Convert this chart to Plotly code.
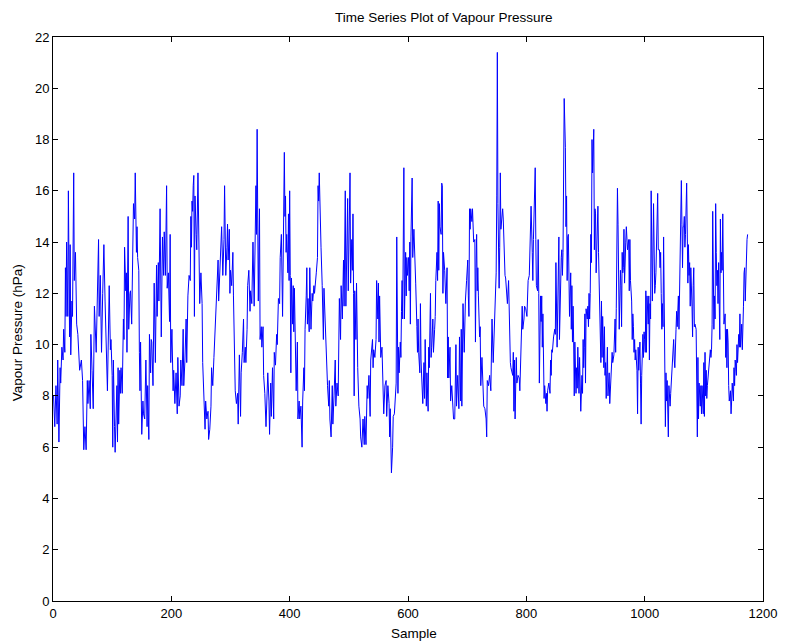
import plotly.graph_objects as go

# Turning points (sample index, vapour pressure hPa)
s1 = [1,3,5,7,8,10,12,13,15,17,18,20,21,22,23,25,26,28,29,30,32,33,35,36,38,40,42,44,45,48,50,52,54,56,58,59,61,63,64,66,68,70,73,77,78,80,82,84,86,88]
v1 = [8.0,6.8,8.4,6.9,9.4,6.2,9.1,8.5,9.9,9.4,10.6,9.7,13.0,11.1,14.0,11.1,16.0,10.3,13.9,9.6,11.7,11.1,16.7,12.5,13.6,10.8,10.4,9.5,9.0,9.4,8.6,5.9,6.8,5.9,8.6,7.7,8.6,7.5,10.4,9.0,7.5,11.5,9.7,14.1,11.1,12.7,9.7,12.0,13.9,11.7]

s2 = [92,95,97,98,100,101,102,104,105,108,109,110,111,113,114,115,117,119,120,121,123,124,125,127,128,130,131,133,134,136,138,139,141,142,143,145,146,147,148,150,152,153,155,157,159,160,162,163,165,166,167,169,171,173,175,176,178,179,181,183,185,187,188,190]
v2 = [8.2,12.3,9.8,10.2,8.8,6.0,9.4,6.8,5.8,8.4,6.2,9.1,6.9,9.0,8.1,9.1,8.1,11.0,10.2,13.8,12.1,12.8,9.7,15.0,10.6,12.0,12.1,10.8,12.9,15.5,14.9,16.7,13.6,14.6,13.4,12.9,9.7,8.2,10.1,6.5,7.8,7.3,7.1,9.4,6.8,8.4,6.3,10.4,8.9,10.2,10.1,8.4,12.4,9.3,13.1,11.1,13.2,11.7,15.3,10.3,14.2,12.7,14.4,12.7]

s3 = [192,193,195,197,198,199,201,203,204,206,208,210,211,213,215,216,218,220,221,223,225,226,228,230,232,233,234,235,236,237,238,239,240,242,243,245,247,248,250,252,253,255,257,258,260,262,263,265,267,268,270,272,274,276,277,279,280,281,283,285,287,289]
v3 = [16.2,12.2,12.8,10.9,14.3,9.3,10.6,8.2,9.0,7.7,8.9,7.3,9.5,7.6,8.0,9.4,8.4,10.6,8.4,9.4,11.0,9.3,11.9,12.7,12.5,15.0,13.8,15.6,15.2,16.2,16.6,11.1,15.8,14.3,13.7,16.7,13.6,11.6,12.8,11.6,9.3,8.2,6.7,7.8,7.1,7.4,6.3,6.7,7.6,9.1,8.4,9.5,10.7,11.9,12.0,13.3,11.7,12.3,13.6,14.6,12.7,14.1]

s4 = [290,292,294,295,296,298,299,300,302,304,305,306,308,310,312,313,315,317,318,320,322,323,325,326,328,329,331,333,334,336,338,340,341,343,344,345,347,349,350,352,353,355,356,358,360,361,363,365,366,368,369,371,373,374,376,378,379,381,383,384]
v4 = [16.2,12.7,13.8,14.7,13.3,14.5,12.0,12.9,12.3,13.6,11.9,11.0,8.2,7.7,8.1,6.9,9.6,7.2,8.9,9.7,11.0,9.3,9.9,9.3,10.6,12.3,12.9,11.3,12.1,11.6,14.0,11.5,12.9,16.2,14.3,18.4,11.7,15.3,10.2,10.7,9.9,10.7,8.8,8.1,6.8,7.6,8.9,7.8,6.5,8.5,7.2,9.1,7.1,9.7,9.2,10.4,10.0,11.8,11.6,13.4]

s5 = [386,388,389,391,392,393,394,395,397,398,399,400,401,402,403,405,406,407,408,409,410,411,413,414,416,417,419,421,422,424,425,426,428,429,430,431,433,434,436,438,439,441,442,443,445,447,448,449,450,452,453,455,457,458,459,461,463,464,466,467,468,470,472,473,475,477,478,480,482]
v5 = [14.3,11.1,14.3,17.5,15.0,15.8,13.6,14.3,12.8,15.1,12.5,16.0,12.7,8.9,12.6,10.8,12.3,10.5,12.2,11.0,10.6,8.2,10.1,7.1,7.8,7.1,7.6,6.0,7.8,9.1,8.2,10.6,11.9,13.0,10.8,11.8,10.5,13.0,10.6,12.0,11.7,12.3,12.0,12.4,12.8,13.4,16.2,15.6,16.7,14.0,13.8,12.3,10.2,12.2,11.5,10.2,9.1,8.4,7.6,8.6,7.1,6.4,8.4,6.9,8.0,9.4,7.6,8.5,8.0]

s6 = [484,486,487,489,490,491,492,494,495,496,498,499,501,502,503,505,506,507,508,509,510,512,513,514,515,517,519,520,522,524,526,527,529,531,532,534,536,537,538,540,541,542,544,546,547,549,550,551,552,554,556,557,559,561,563,564,566,568,569,570,572,574,575,577,579,580]
v6 = [11.8,10.2,12.3,11.0,12.3,13.3,11.5,16.0,11.5,13.3,15.7,12.1,14.5,16.7,12.4,14.1,12.9,15.1,12.0,8.0,12.1,10.2,12.4,10.4,9.1,7.6,7.1,6.4,6.0,7.1,6.1,7.2,6.1,8.4,7.9,8.8,7.2,9.4,9.7,10.2,9.1,9.8,9.5,10.2,12.5,11.0,12.4,10.1,11.9,9.5,9.9,8.6,7.3,8.4,8.6,7.2,8.4,7.7,6.4,7.5,5.0,6.0,7.2,7.3,8.0,8.5]

s7 = [581,583,584,585,587,588,589,590,591,593,594,595,596,597,598,599,601,602,603,604,605,607,608,610,611,612,613,615,616,617,618,620,621,622,624,625,627,628,629,630,631,632,634,635,636,638,639,640,642,643,645,646,647,649,650,651,652,653,654,656,657,658,659,660,662,664,666,667,668,669,671,672,674,676,677]
v7 = [14.2,8.1,9.9,8.9,10.1,9.5,11.3,12.5,11.0,16.9,11.0,12.9,13.6,11.9,13.4,12.7,13.4,12.1,14.0,10.8,14.2,16.5,13.4,14.5,13.4,12.5,12.4,10.7,9.7,11.0,9.7,8.9,11.6,9.4,8.4,7.7,9.3,7.9,10.2,8.4,7.6,8.9,7.4,9.9,9.1,12.0,9.5,9.9,11.0,9.7,10.6,11.1,12.5,13.6,12.5,15.6,12.9,15.5,14.6,14.3,16.3,16.2,12.0,13.6,12.9,11.6,13.0,8.7,10.3,8.7,9.9,7.8,8.4,7.7,7.1]

s8 = [679,681,682,684,686,687,689,690,691,693,695,696,697,699,701,702,703,704,705,706,708,709,710,711,713,714,715,716,717,718,719,721,722,723,725,727,728,730,732,733,734,736,738,740,741,742,744,746,747,749,750,751,752,754,755,756,757,759,760,761,762,764,765,767,768,770,771,773,774]
v8 = [7.1,10.0,7.6,8.8,7.5,10.3,7.8,10.6,7.6,11.6,9.7,11.5,11.7,12.5,13.3,11.9,11.1,15.3,14.5,15.3,14.8,15.3,14.7,14.0,14.1,10.1,13.0,14.3,12.1,13.0,11.9,10.3,10.7,8.4,9.5,8.4,7.6,7.5,7.1,6.4,8.6,8.4,8.8,8.2,9.6,11.0,9.3,11.0,11.5,12.8,15.8,21.4,15.5,12.2,13.8,16.7,14.5,14.9,15.3,14.9,13.8,12.7,12.6,11.8,11.6,12.5,11.0,9.3,9.1]

s9 = [777,778,779,780,781,783,784,786,788,789,791,792,793,794,796,797,799,801,802,803,805,807,808,810,811,812,813,815,816,817,819,820,821,822,824,825,826,827,828,829,830,831,833,834,835,836,838,840,841,842,843,844,846,848,849,850,852,853,855,856,858,859,860,861,862,863,864,866,867,868,869,870,871]
v9 = [8.8,9.7,7.4,9.4,7.1,9.5,8.5,8.8,8.7,8.2,10.2,10.3,11.5,10.6,11.0,11.5,11.4,11.1,11.9,12.5,12.7,14.2,15.4,13.6,12.5,14.1,15.6,16.9,14.1,12.3,12.1,14.1,12.0,8.5,11.9,10.9,11.9,9.9,11.2,8.5,7.9,8.4,7.7,8.1,7.4,8.2,8.5,8.1,9.4,8.8,9.8,9.7,10.3,10.6,10.4,13.2,9.9,11.0,14.2,10.2,13.4,13.4,13.7,12.7,13.6,15.9,19.6,17.7,14.6,15.8,12.5,14.2,14.3]

s10 = [873,875,876,877,878,879,880,881,882,884,885,886,887,888,889,890,891,892,894,895,896,897,898,899,900,901,903,904,905,906,907,908,909,910,911,912,914,915,916,917,918,919,921,922,923,925,926,927,928,929,931,932,933,934,935,936,937,938,940,941,942,943,944,945,946,947,948,950,951,952,954,955,956,957,959,960,961,962,963,964,965,966,968,969]
v10 = [11.1,12.8,10.6,12.3,10.1,11.5,10.1,8.0,10.1,8.1,9.1,8.3,9.9,8.2,8.1,9.5,8.8,7.4,8.8,8.1,10.2,9.1,9.9,11.2,8.5,11.4,11.0,11.5,10.7,12.0,11.0,12.0,14.3,13.2,18.0,16.7,18.4,13.7,15.3,15.1,12.8,14.1,15.4,13.6,12.3,10.2,9.3,11.7,9.5,11.1,9.1,10.7,8.8,9.3,7.9,8.6,9.9,8.0,8.9,7.7,8.1,8.8,8.9,9.7,9.3,9.4,9.6,11.0,9.7,11.4,16.1,14.7,12.9,10.6,12.9,12.3,10.7,13.6,12.8,13.0,14.5,12.4,14.0,14.6]

s11 = [971,973,974,975,976,978,979,980,981,982,983,984,985,987,988,989,990,991,992,993,994,995,997,998,999,1000,1001,1002,1003,1004,1006,1007,1008,1009,1010,1011,1012,1013,1015,1016,1017,1018,1019,1020,1021,1022,1023,1025,1026,1027,1028,1029,1030,1031,1032,1034,1035,1036,1037,1038,1039,1040,1041,1043,1044,1045,1046,1047,1048,1049,1050,1051,1053,1054,1055,1056,1057,1058,1059,1060,1062,1063,1064,1065,1066,1067,1068,1069,1071]
v11 = [13.7,14.1,12.1,14.1,12.5,11.7,10.2,11.2,10.7,9.7,10.2,9.4,9.8,9.0,7.3,9.9,9.0,9.4,10.1,8.5,6.9,8.8,10.4,9.5,10.5,10.2,9.7,12.1,9.7,11.9,10.8,11.9,9.4,11.6,11.0,16.0,11.7,11.7,15.5,14.1,12.0,12.3,12.8,14.3,15.0,15.9,13.7,13.7,13.0,13.6,12.0,10.6,11.6,10.7,14.2,10.4,6.8,8.9,7.8,8.6,7.3,6.4,8.4,7.6,8.1,8.5,8.9,9.4,9.4,10.2,9.4,9.1,10.6,11.3,10.7,11.7,11.9,10.6,12.3,14.1,16.4,14.7,13.0,14.6,14.6,15.0,13.8,14.3,16.3]

s12 = [1073,1074,1075,1076,1077,1078,1080,1081,1082,1083,1084,1085,1087,1088,1089,1090,1091,1092,1094,1095,1096,1097,1099,1100,1101,1102,1103,1104,1105,1106,1108,1110,1111,1112,1113,1114,1115,1117,1118,1119,1120,1121,1122,1123,1124,1125,1127,1128,1129,1130,1131,1132,1133,1134,1136,1137,1138,1139,1140,1141,1142,1143,1145,1146,1147,1148,1150,1151,1152,1153,1155,1156,1157,1158,1159,1160,1161,1162,1164,1165,1166,1167,1168,1169,1170,1171,1173,1174]
v12 = [12.4,13.9,12.7,13.2,11.5,13.0,11.5,10.3,12.3,13.0,10.7,10.8,10.6,8.3,6.4,9.5,7.1,8.5,7.6,8.4,7.3,8.4,7.3,9.3,7.2,9.7,8.0,9.0,7.9,8.4,8.9,9.3,9.8,9.5,9.8,10.8,15.2,10.6,11.9,11.0,15.5,13.6,12.3,12.9,11.6,13.2,10.2,14.9,12.8,13.6,12.9,15.1,11.5,10.8,11.2,9.5,10.6,9.1,10.6,10.1,8.4,7.8,8.2,7.3,7.8,8.5,7.8,9.1,8.4,9.4,8.8,10.0,9.3,10.1,10.4,9.9,11.2,9.9,10.8,9.8,10.4,11.5,12.8,13.0,11.7,12.8,14.1,14.3]

sample_idx = s1 + s2 + s3 + s4 + s5 + s6 + s7 + s8 + s9 + s10 + s11 + s12
vapour_hpa = v1 + v2 + v3 + v4 + v5 + v6 + v7 + v8 + v9 + v10 + v11 + v12

x_ticks = [0, 200, 400, 600, 800, 1000, 1200]
y_ticks = list(range(0, 23, 2))

title_text = "Time Series Plot of Vapour Pressure"
x_label = "Sample"
y_label = "Vapour Pressure (hPa)"

FONT = "Liberation Sans, Arial, Helvetica, sans-serif"
FS = 13
FS_LABEL = 13.5

fig = go.Figure()
fig.add_trace(go.Scatter(
    x=sample_idx, y=vapour_hpa, mode="lines",
    line=dict(color="#0000ff", width=1),
    showlegend=False, hoverinfo="x+y",
))

axis_common = dict(
    showgrid=False, zeroline=False, showline=True, linecolor="black", linewidth=1,
    mirror="ticks", ticks="inside", ticklen=5, tickcolor="black", tickwidth=1,
    tickfont=dict(family=FONT, size=FS, color="black"),
)

fig.update_layout(
    width=789, height=644,
    margin=dict(l=53, r=21, t=37, b=43),
    paper_bgcolor="white", plot_bgcolor="white",
    font=dict(family=FONT, size=FS, color="black"),
    xaxis=dict(range=[0, 1200], tickvals=x_ticks, ticktext=[str(t) for t in x_ticks],
               **axis_common),
    yaxis=dict(range=[0, 22], tickvals=y_ticks, ticktext=[str(t) for t in y_ticks],
               **axis_common),
    annotations=[
        dict(text=title_text, xref="paper", yref="paper", x=0.55, y=1.034,
             xanchor="center", yanchor="middle", showarrow=False,
             font=dict(family=FONT, size=FS_LABEL, color="black")),
        dict(text=x_label, xref="paper", yref="paper", x=0.508, y=-0.057,
             xanchor="center", yanchor="middle", showarrow=False,
             font=dict(family=FONT, size=FS_LABEL, color="black")),
        dict(text=y_label, xref="paper", yref="paper", x=-0.0505, y=0.475,
             xanchor="center", yanchor="middle", showarrow=False, textangle=-90,
             font=dict(family=FONT, size=FS_LABEL, color="black")),
    ],
)

fig.write_html("out.html")
